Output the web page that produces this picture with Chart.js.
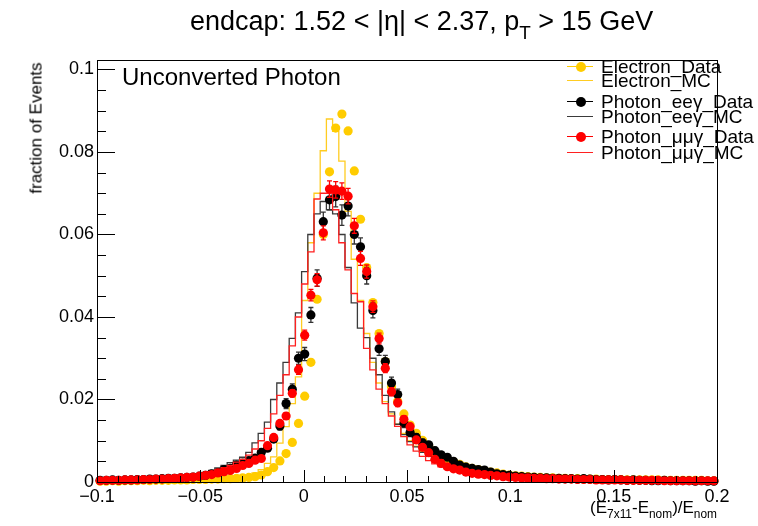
<!DOCTYPE html>
<html><head><meta charset="utf-8">
<script src="https://cdn.jsdelivr.net/npm/chart.js@4"></script>
<style>
body{margin:0;background:#fff;}
#wrap{position:relative;width:758px;height:526px;overflow:hidden;font-family:"Liberation Sans",Arial,sans-serif;background:#fff;}
canvas{position:absolute;left:0;top:0;}
.t{position:absolute;white-space:nowrap;color:#000;line-height:1;}
.sub{font-size:0.7em;position:relative;top:0.45em;}
.lg{position:absolute;left:567px;height:18px;white-space:nowrap;font-size:19px;line-height:18px;}
.lg .ln{position:absolute;left:0;top:8px;width:26px;height:0;}
.lg .mk{position:absolute;left:8.5px;top:4px;width:10px;height:10px;border-radius:50%;}
.lg .tx{position:absolute;left:34px;top:0;}
</style></head><body>
<div id="wrap">
<canvas id="c" width="758" height="526"></canvas>
<div class="t" style="left:190px;top:8px;font-size:27px">endcap: 1.52 &lt; |η| &lt; 2.37, p<span class="sub">T</span> &gt; 15 GeV</div>
<div class="t" style="left:122px;top:65px;font-size:24px">Unconverted Photon</div>
<div class="t" style="left:36px;top:128px;font-size:17px;transform:translate(-50%,-50%) rotate(-90deg);">fraction of Events</div>
<div class="t" style="right:41px;top:499px;font-size:17px">(E<span class="sub">7x11</span>-E<span class="sub">nom</span>)/E<span class="sub">nom</span></div>
<div id="legend"></div>
</div>
<script>
// ---- data (100 bins of width 0.003 from -0.1 to 0.2) ----
const xLow = -0.1, binWidth = 0.003, nBins = 100;
const xTickVals = [-0.1, -0.05, 0, 0.05, 0.1, 0.15, 0.2];
const xTickLabels = ['\u22120.1', '\u22120.05', '0', '0.05', '0.1', '0.15', '0.2'];
const yTickVals = [0, 0.02, 0.04, 0.06, 0.08, 0.1];
const yTickLabels = ['0', '0.02', '0.04', '0.06', '0.08', '0.1'];
const seriesLabels = ['Electron_Data', 'Electron_MC', 'Photon_ee\u03b3_Data', 'Photon_ee\u03b3_MC', 'Photon_\u03bc\u03bc\u03b3_Data', 'Photon_\u03bc\u03bc\u03b3_MC'];

const electronData = [
0.0002,0.0002,0.0003,0.0002,0.0003,0.0003,0.0003,0.0004,0.0003,0.0004,
0.0004,0.0004,0.0005,0.0005,0.0005,0.0006,0.0006,0.0006,0.0007,0.0007,
0.0008,0.0008,0.0009,0.0010,0.0011,0.0013,0.0017,0.0025,0.0035,0.0051,
0.0069,0.0096,0.0142,0.0208,0.0290,0.0443,0.0600,0.0752,0.0858,0.0892,
0.0851,0.0754,0.0637,0.0520,0.0435,0.0360,0.0292,0.0231,0.0196,0.0165,
0.0138,0.0118,0.0101,0.0087,0.0073,0.0063,0.0056,0.0049,0.0043,0.0037,
0.0033,0.0030,0.0027,0.0024,0.0022,0.0019,0.0017,0.0015,0.0014,0.0013,
0.0012,0.0011,0.0010,0.0010,0.0009,0.0009,0.0008,0.0008,0.0007,0.0007,
0.0007,0.0006,0.0006,0.0006,0.0006,0.0005,0.0005,0.0005,0.0005,0.0005,
0.0005,0.0004,0.0004,0.0004,0.0004,0.0004,0.0004,0.0004,0.0003,0.0003];
const electronMC = [
0.0002,0.0003,0.0002,0.0003,0.0003,0.0003,0.0004,0.0003,0.0004,0.0004,
0.0004,0.0005,0.0005,0.0005,0.0006,0.0006,0.0007,0.0007,0.0007,0.0008,
0.0008,0.0009,0.0010,0.0011,0.0013,0.0016,0.0022,0.0030,0.0045,0.0061,
0.0094,0.0134,0.0190,0.0255,0.0440,0.0580,0.0700,0.0803,0.0880,0.0850,
0.0778,0.0656,0.0540,0.0440,0.0360,0.0290,0.0240,0.0195,0.0165,0.0140,
0.0118,0.0100,0.0087,0.0074,0.0064,0.0056,0.0049,0.0043,0.0038,0.0034,
0.0030,0.0027,0.0024,0.0022,0.0019,0.0017,0.0015,0.0014,0.0013,0.0012,
0.0011,0.0010,0.0010,0.0009,0.0009,0.0008,0.0008,0.0007,0.0007,0.0007,
0.0006,0.0006,0.0006,0.0006,0.0005,0.0005,0.0005,0.0005,0.0005,0.0005,
0.0004,0.0004,0.0004,0.0004,0.0004,0.0004,0.0004,0.0004,0.0004,0.0003];
const eegData = [
0.0004,0.0004,0.0005,0.0004,0.0005,0.0005,0.0006,0.0006,0.0007,0.0007,
0.0008,0.0009,0.0009,0.0010,0.0011,0.0012,0.0014,0.0016,0.0020,0.0023,
0.0030,0.0033,0.0041,0.0046,0.0052,0.0058,0.0072,0.0082,0.0104,0.0136,
0.0190,0.0225,0.0300,0.0310,0.0405,0.0494,0.0631,0.0684,0.0692,0.0647,
0.0669,0.0600,0.0570,0.0500,0.0416,0.0323,0.0292,0.0240,0.0212,0.0143,
0.0120,0.0108,0.0095,0.0090,0.0076,0.0066,0.0060,0.0050,0.0041,0.0036,
0.0033,0.0030,0.0029,0.0024,0.0020,0.0018,0.0016,0.0014,0.0013,0.0012,
0.0011,0.0010,0.0010,0.0009,0.0009,0.0008,0.0008,0.0007,0.0008,0.0007,
0.0006,0.0006,0.0005,0.0006,0.0005,0.0004,0.0005,0.0004,0.0004,0.0003,
0.0003,0.0004,0.0003,0.0003,0.0003,0.0003,0.0002,0.0003,0.0002,0.0002];
const eegDataErr = [
0.0001,0.0001,0.0001,0.0001,0.0001,0.0001,0.0001,0.0001,0.0001,0.0001,
0.0002,0.0002,0.0002,0.0002,0.0002,0.0002,0.0002,0.0002,0.0003,0.0003,
0.0003,0.0003,0.0004,0.0004,0.0004,0.0005,0.0006,0.0007,0.0008,0.0010,
0.0012,0.0013,0.0015,0.0016,0.0018,0.0020,0.0023,0.0024,0.0025,0.0025,
0.0024,0.0023,0.0022,0.0020,0.0018,0.0016,0.0015,0.0014,0.0013,0.0011,
0.0010,0.0009,0.0009,0.0008,0.0008,0.0007,0.0007,0.0006,0.0006,0.0005,
0.0005,0.0005,0.0004,0.0004,0.0004,0.0003,0.0003,0.0003,0.0003,0.0003,
0.0003,0.0003,0.0002,0.0002,0.0002,0.0002,0.0002,0.0002,0.0002,0.0002,
0.0002,0.0002,0.0002,0.0002,0.0002,0.0002,0.0002,0.0002,0.0002,0.0002,
0.0002,0.0002,0.0002,0.0002,0.0002,0.0002,0.0001,0.0002,0.0001,0.0001];
const eegMC = [
0.0005,0.0004,0.0005,0.0005,0.0006,0.0006,0.0006,0.0007,0.0008,0.0008,
0.0009,0.0009,0.0010,0.0011,0.0012,0.0014,0.0016,0.0019,0.0023,0.0028,
0.0034,0.0040,0.0047,0.0053,0.0060,0.0072,0.0095,0.0118,0.0145,0.0200,
0.0240,0.0290,0.0348,0.0410,0.0510,0.0600,0.0650,0.0680,0.0660,0.0650,
0.0600,0.0520,0.0434,0.0373,0.0350,0.0300,0.0260,0.0210,0.0170,0.0140,
0.0115,0.0098,0.0085,0.0072,0.0062,0.0054,0.0047,0.0041,0.0036,0.0032,
0.0029,0.0026,0.0023,0.0020,0.0018,0.0016,0.0014,0.0013,0.0012,0.0011,
0.0010,0.0010,0.0009,0.0009,0.0008,0.0008,0.0007,0.0007,0.0007,0.0006,
0.0006,0.0006,0.0005,0.0005,0.0005,0.0005,0.0004,0.0004,0.0004,0.0004,
0.0004,0.0003,0.0003,0.0003,0.0003,0.0003,0.0003,0.0003,0.0002,0.0002];
const mmgData = [
0.0003,0.0004,0.0004,0.0004,0.0005,0.0005,0.0005,0.0006,0.0006,0.0007,
0.0007,0.0008,0.0009,0.0010,0.0011,0.0012,0.0014,0.0016,0.0018,0.0022,
0.0025,0.0028,0.0033,0.0040,0.0045,0.0053,0.0057,0.0088,0.0108,0.0142,
0.0160,0.0215,0.0272,0.0356,0.0453,0.0490,0.0604,0.0710,0.0708,0.0705,
0.0693,0.0621,0.0542,0.0510,0.0425,0.0348,0.0276,0.0219,0.0192,0.0152,
0.0134,0.0102,0.0084,0.0071,0.0055,0.0045,0.0037,0.0032,0.0029,0.0024,
0.0021,0.0019,0.0018,0.0016,0.0015,0.0013,0.0012,0.0011,0.0010,0.0010,
0.0009,0.0009,0.0008,0.0008,0.0007,0.0007,0.0007,0.0006,0.0006,0.0006,
0.0005,0.0005,0.0005,0.0005,0.0005,0.0004,0.0004,0.0004,0.0004,0.0004,
0.0004,0.0003,0.0003,0.0003,0.0003,0.0003,0.0003,0.0003,0.0003,0.0003];
const mmgDataErr = [
0.0001,0.0001,0.0001,0.0001,0.0001,0.0001,0.0001,0.0001,0.0001,0.0001,
0.0001,0.0001,0.0001,0.0002,0.0002,0.0002,0.0002,0.0002,0.0002,0.0002,
0.0002,0.0003,0.0003,0.0003,0.0003,0.0004,0.0004,0.0005,0.0006,0.0007,
0.0008,0.0009,0.0011,0.0012,0.0014,0.0015,0.0017,0.0020,0.0020,0.0020,
0.0019,0.0018,0.0017,0.0016,0.0014,0.0013,0.0011,0.0010,0.0009,0.0008,
0.0008,0.0007,0.0006,0.0006,0.0005,0.0005,0.0004,0.0004,0.0004,0.0003,
0.0003,0.0003,0.0003,0.0003,0.0003,0.0002,0.0002,0.0002,0.0002,0.0002,
0.0002,0.0002,0.0002,0.0002,0.0002,0.0002,0.0002,0.0001,0.0001,0.0001,
0.0001,0.0001,0.0001,0.0001,0.0001,0.0001,0.0001,0.0001,0.0001,0.0001,
0.0001,0.0001,0.0001,0.0001,0.0001,0.0001,0.0001,0.0001,0.0001,0.0001];
const mmgMC = [
0.0004,0.0004,0.0005,0.0005,0.0005,0.0006,0.0006,0.0007,0.0007,0.0008,
0.0008,0.0009,0.0010,0.0011,0.0012,0.0014,0.0016,0.0018,0.0021,0.0025,
0.0030,0.0035,0.0040,0.0048,0.0055,0.0065,0.0080,0.0100,0.0130,0.0165,
0.0210,0.0260,0.0330,0.0400,0.0480,0.0558,0.0686,0.0700,0.0700,0.0660,
0.0580,0.0514,0.0457,0.0437,0.0324,0.0272,0.0225,0.0190,0.0160,0.0135,
0.0110,0.0090,0.0075,0.0062,0.0052,0.0044,0.0037,0.0032,0.0028,0.0024,
0.0021,0.0019,0.0017,0.0015,0.0014,0.0013,0.0012,0.0011,0.0010,0.0009,
0.0009,0.0008,0.0008,0.0007,0.0007,0.0007,0.0006,0.0006,0.0006,0.0005,
0.0005,0.0005,0.0005,0.0004,0.0004,0.0004,0.0004,0.0004,0.0004,0.0003,
0.0003,0.0003,0.0003,0.0003,0.0003,0.0003,0.0003,0.0003,0.0003,0.0003];

// ---- helpers building point lists from the arrays ----
const binCenter = k => xLow + binWidth * (k + 0.5);
const binEdge = k => xLow + binWidth * k;
const asPoints = vals => vals.map((v, k) => ({x: binCenter(k), y: v}));
const asHist = vals => vals.map((v, k) => ({x: binEdge(k), y: v})).concat([{x: binEdge(nBins), y: vals[nBins - 1]}]);

const YEL = '#ffcc00', BLK = '#000000', RED = '#ff0000';
function dataSet(label, vals, errs, color, order) {
  return {label, data: asPoints(vals), errors: errs, errColor: color === BLK ? '#333333' : color,
    showLine: false, pointRadius: 4.6, pointHoverRadius: 4.6, pointBorderWidth: 0,
    pointBackgroundColor: color, borderColor: color, backgroundColor: color, order, kind: 'data',
    clip: {left: 5, right: 5, top: 5, bottom: 5}};
}
function mcSet(label, vals, color, order) {
  return {label, data: asHist(vals), stepped: 'after', borderColor: color, borderWidth: 1.3,
    pointRadius: 0, fill: false, order, kind: 'mc', backgroundColor: color};
}

const datasets = [
  dataSet(seriesLabels[0], electronData, null, YEL, 5),
  mcSet(seriesLabels[1], electronMC, '#ffcc22', 6),
  dataSet(seriesLabels[2], eegData, eegDataErr, BLK, 3),
  mcSet(seriesLabels[3], eegMC, '#3a3a3a', 4),
  dataSet(seriesLabels[4], mmgData, mmgDataErr, RED, 1),
  mcSet(seriesLabels[5], mmgMC, '#ff2020', 2)
];

const rootStyle = {
  id: 'rootStyle',
  beforeDatasetDraw(chart, args) {
    const ds = chart.data.datasets[args.index];
    if (!ds.errors) return;
    const ctx = chart.ctx, xs = chart.scales.x, ys = chart.scales.y;
    ctx.save();
    ctx.strokeStyle = ds.errColor; ctx.lineWidth = 1.3;
    ds.data.forEach((p, i) => {
      const e = ds.errors[i]; if (!e) return;
      const px = xs.getPixelForValue(p.x);
      const y1 = ys.getPixelForValue(p.y + e), y2 = ys.getPixelForValue(Math.max(0, p.y - e));
      ctx.beginPath();
      ctx.moveTo(px, y1); ctx.lineTo(px, y2);
      if (y2 - y1 > 3) {
        ctx.moveTo(px - 2.5, y1); ctx.lineTo(px + 2.5, y1);
        ctx.moveTo(px - 2.5, y2); ctx.lineTo(px + 2.5, y2);
      }
      ctx.stroke();
    });
    ctx.restore();
  },
  afterDraw(chart) {
    const ctx = chart.ctx, a = chart.chartArea, xs = chart.scales.x, ys = chart.scales.y;
    ctx.save();
    ctx.strokeStyle = '#000'; ctx.lineWidth = 1;
    ctx.strokeRect(Math.round(a.left) + 0.5, Math.round(a.top) + 0.5, Math.round(a.right - a.left), Math.round(a.bottom - a.top));
    ctx.beginPath();
    for (let i = 0; i <= 20; i++) {
      const v = i * 0.005; if (v > ys.max) break;
      const py = Math.round(ys.getPixelForValue(v)) + 0.5;
      const len = (i % 4 === 0) ? 18 : 9;
      ctx.moveTo(a.left, py); ctx.lineTo(a.left + len, py);
    }
    for (let i = 0; i <= 30; i++) {
      const v = -0.1 + i * 0.01;
      const px = Math.round(xs.getPixelForValue(v)) + 0.5;
      const len = (i % 5 === 0) ? 12 : 6;
      ctx.moveTo(px, a.bottom); ctx.lineTo(px, a.bottom - len);
    }
    ctx.stroke();
    ctx.restore();
  }
};

const chart = new Chart(document.getElementById('c'), {
  type: 'line',
  data: {datasets},
  options: {
    responsive: false, animation: false, events: [],
    layout: {padding: {left: 0, top: 60, right: 41, bottom: 0}},
    plugins: {legend: {display: false}, tooltip: {enabled: false}, title: {display: false}},
    scales: {
      x: {type: 'linear', min: -0.1, max: 0.2,
        grid: {display: false, drawTicks: false}, border: {display: false},
        afterBuildTicks: s => { s.ticks = xTickVals.map(v => ({value: v})); },
        afterFit: s => { s.height = 44; },
        ticks: {autoSkip: false, maxRotation: 0, padding: 4, color: '#000',
          font: {family: 'Liberation Sans', size: 18},
          callback: (v) => { const i = xTickVals.findIndex(t => Math.abs(t - v) < 1e-9); return i >= 0 ? xTickLabels[i] : ''; }}
      },
      y: {type: 'linear', min: 0, max: 0.1023,
        grid: {display: false, drawTicks: false}, border: {display: false},
        afterBuildTicks: s => { s.ticks = yTickVals.map(v => ({value: v})); },
        afterFit: s => { s.width = 97; },
        ticks: {autoSkip: false, padding: 3, color: '#000',
          font: {family: 'Liberation Sans', size: 18},
          callback: (v) => { const i = yTickVals.findIndex(t => Math.abs(t - v) < 1e-9); return i >= 0 ? yTickLabels[i] : ''; }}
      }
    }
  },
  plugins: [rootStyle]
});

// ---- legend (ROOT style, top right) ----
const legendTops = [58, 72, 93, 108, 128, 144];
const lg = document.getElementById('legend');
chart.data.datasets.forEach((ds, i) => {
  const row = document.createElement('div');
  row.className = 'lg'; row.style.top = legendTops[i] + 'px';
  const col = ds.borderColor;
  row.innerHTML = '<div class="ln" style="border-top:1.5px solid ' + col + '"></div>' +
    (ds.kind === 'data' ? '<div class="mk" style="background:' + col + '"></div>' : '') +
    '<div class="tx">' + ds.label + '</div>';
  lg.appendChild(row);
});
</script>
</body></html>
